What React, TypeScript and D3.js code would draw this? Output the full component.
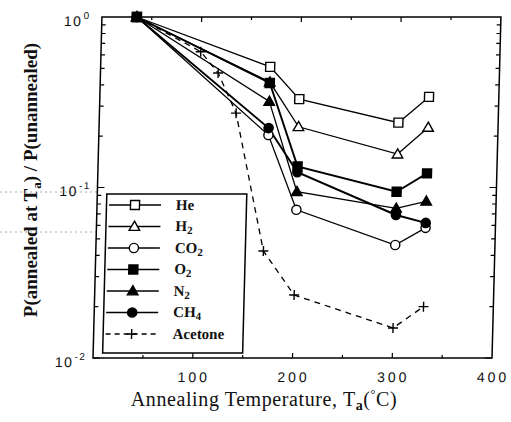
import React, { useEffect, useRef } from "react";
import * as d3 from "d3";

// annealing temperatures (°C) shared by the gas series
const temps = [35, 170, 200, 300, 330];
const heVals = [1, 0.51, 0.33, 0.24, 0.34];
const h2Vals = [1, 0.415, 0.227, 0.157, 0.225];
const co2Vals = [1, 0.203, 0.074, 0.046, 0.058];
const o2Vals = [1, 0.41, 0.133, 0.0945, 0.121];
const n2Vals = [1, 0.32, 0.0945, 0.0755, 0.083];
const ch4Vals = [1, 0.223, 0.123, 0.069, 0.062];
// acetone has its own temperature points
const acetoneTemps = [35, 100, 118, 137, 168, 200, 300, 330];
const acetoneVals = [1, 0.626, 0.469, 0.273, 0.0424, 0.0234, 0.015, 0.02];

const xTicks = [100, 200, 300, 400];
const yTickExps = [0, -1, -2];

type Series = {
  name: string;
  sub?: string;
  xs: number[];
  ys: number[];
  shape: string;
  filled: boolean;
  dashed?: boolean;
  width: number;
};

const series: Series[] = [
  { name: "He", xs: temps, ys: heVals, shape: "square", filled: false, width: 1.3 },
  { name: "H", sub: "2", xs: temps, ys: h2Vals, shape: "triangle", filled: false, width: 1.3 },
  { name: "CO", sub: "2", xs: temps, ys: co2Vals, shape: "circle", filled: false, width: 1.3 },
  { name: "O", sub: "2", xs: temps, ys: o2Vals, shape: "square", filled: true, width: 1.9 },
  { name: "N", sub: "2", xs: temps, ys: n2Vals, shape: "triangle", filled: true, width: 1.3 },
  { name: "CH", sub: "4", xs: temps, ys: ch4Vals, shape: "circle", filled: true, width: 1.9 },
  { name: "Acetone", xs: acetoneTemps, ys: acetoneVals, shape: "plus", filled: false, dashed: true, width: 1.3 },
];

const App = () => {
  const svgRef = useRef<SVGSVGElement>(null);

  useEffect(() => {
    const width = 511;
    const height = 422;
    const bottom = 358;

    const svg = d3.select(svgRef.current);
    svg.selectAll("*").remove();
    svg.attr("width", width).attr("height", height);

    svg.append("rect").attr("width", width).attr("height", height).attr("fill", "#fff");

    const x = d3.scaleLinear().domain([0, 400]).range([93, 492]);
    const y = d3.scaleLog().domain([0.01, 1]).range([bottom, 17]);

    // scanner artefacts on the left margin
    [192, 232].forEach((yy) => {
      svg
        .append("line")
        .attr("x1", 0)
        .attr("x2", 100)
        .attr("y1", yy)
        .attr("y2", yy)
        .attr("stroke", "#aaa")
        .attr("stroke-width", 1)
        .attr("stroke-dasharray", "2,3");
    });

    // the scanned page is tilted a little
    const g = svg
      .append("g")
      .attr("transform", `translate(0,${bottom}) skewX(-1.5) translate(0,${-bottom})`);

    // frame
    g.append("rect")
      .attr("x", x(0))
      .attr("y", y(1))
      .attr("width", x(400) - x(0))
      .attr("height", y(0.01) - y(1))
      .attr("fill", "none")
      .attr("stroke", "#000")
      .attr("stroke-width", 1.5);

    // x ticks, inward on bottom and top
    d3.range(50, 400, 50).forEach((t) => {
      const len = t % 100 === 0 ? 5 : 3;
      g.append("line")
        .attr("x1", x(t)).attr("x2", x(t))
        .attr("y1", y(0.01)).attr("y2", y(0.01) - len)
        .attr("stroke", "#000").attr("stroke-width", 1.2);
      g.append("line")
        .attr("x1", x(t)).attr("x2", x(t))
        .attr("y1", y(1)).attr("y2", y(1) + len)
        .attr("stroke", "#000").attr("stroke-width", 1.2);
    });

    // y ticks (log minors), inward on left and right
    const yTickVals: number[] = [];
    [0.01, 0.1].forEach((dec) => {
      for (let k = 1; k <= 9; k++) yTickVals.push(dec * k);
    });
    yTickVals.forEach((v) => {
      const major = Math.abs(Math.log10(v) - Math.round(Math.log10(v))) < 1e-6;
      const len = major ? 7 : 4;
      g.append("line")
        .attr("x1", x(0)).attr("x2", x(0) + len)
        .attr("y1", y(v)).attr("y2", y(v))
        .attr("stroke", "#000").attr("stroke-width", 1.2);
      g.append("line")
        .attr("x1", x(400)).attr("x2", x(400) - len)
        .attr("y1", y(v)).attr("y2", y(v))
        .attr("stroke", "#000").attr("stroke-width", 1.2);
    });

    // x tick labels
    xTicks.forEach((t) => {
      g.append("text")
        .attr("x", x(t) + 1.5)
        .attr("y", 382)
        .attr("text-anchor", "middle")
        .style("font-family", "'Liberation Sans', Arial, sans-serif")
        .style("font-size", "14px")
        .style("letter-spacing", "3px")
        .attr("fill", "#111")
        .text(t);
    });

    // y tick labels 10^n
    yTickExps.forEach((e) => {
      const t = g
        .append("text")
        .attr("x", 55)
        .attr("y", y(Math.pow(10, e)) + 9)
        .style("font-family", "'Liberation Sans', Arial, sans-serif")
        .style("font-size", "14px")
        .style("letter-spacing", "1.5px")
        .attr("fill", "#111");
      t.append("tspan").text("10");
      t.append("tspan")
        .attr("dy", -7)
        .attr("dx", 1)
        .style("font-size", "10px")
        .text(e === 0 ? "0" : `-${-e}`);
    });

    // marker helper
    const drawMarker = (parent: any, cx: number, cy: number, s: Series) => {
      const fill = s.filled ? "#000" : "#fff";
      if (s.shape === "square") {
        parent.append("rect")
          .attr("x", cx - 4.5).attr("y", cy - 4.5)
          .attr("width", 9).attr("height", 9)
          .attr("fill", fill).attr("stroke", "#000").attr("stroke-width", 1.4);
      } else if (s.shape === "circle") {
        parent.append("circle")
          .attr("cx", cx).attr("cy", cy).attr("r", 4.6)
          .attr("fill", fill).attr("stroke", "#000").attr("stroke-width", 1.4);
      } else if (s.shape === "triangle") {
        const sym = d3.symbol().type(d3.symbolTriangle).size(48);
        parent.append("path")
          .attr("d", sym())
          .attr("transform", `translate(${cx},${cy + 0.8})`)
          .attr("fill", fill).attr("stroke", "#000").attr("stroke-width", 1.4);
      } else {
        parent.append("path")
          .attr("d", `M${cx - 5},${cy}H${cx + 5}M${cx},${cy - 5}V${cy + 5}`)
          .attr("stroke", "#000").attr("stroke-width", 1.4);
      }
    };

    const line = d3
      .line<[number, number]>()
      .x((d) => x(d[0]))
      .y((d) => y(d[1]));

    // lines
    series.forEach((s) => {
      const pts = s.xs.map((t, i) => [t, s.ys[i]] as [number, number]);
      g.append("path")
        .attr("d", line(pts))
        .attr("fill", "none")
        .attr("stroke", "#000")
        .attr("stroke-width", s.width)
        .attr("stroke-dasharray", s.dashed ? "6,5" : null);
    });

    // markers
    series.forEach((s) => {
      s.xs.forEach((t, i) => drawMarker(g, x(t), y(s.ys[i]), s));
    });

    // legend
    const lx = 102.5;
    const ly = 194;
    const legend = g.append("g");
    legend.append("rect")
      .attr("x", lx).attr("y", ly)
      .attr("width", 140).attr("height", 159)
      .attr("fill", "#fff").attr("stroke", "#000").attr("stroke-width", 1.5);

    series.forEach((s, i) => {
      const ry = 205 + i * 21.5;
      legend.append("line")
        .attr("x1", 105).attr("x2", 157)
        .attr("y1", ry).attr("y2", ry)
        .attr("stroke", "#000").attr("stroke-width", 1.3)
        .attr("stroke-dasharray", s.dashed ? "5,4" : null);
      drawMarker(legend, 131, ry, s);
      const txt = legend.append("text")
        .attr("x", 172)
        .attr("y", ry + 5)
        .style("font-family", "'Liberation Serif', 'Times New Roman', serif")
        .style("font-size", "15px")
        .style("font-weight", "bold")
        .attr("fill", "#111");
      txt.append("tspan").text(s.name);
      if (s.sub) {
        txt.append("tspan").attr("dy", 3).style("font-size", "11px").text(s.sub);
      }
    });

    // x axis title
    const xt = svg.append("text")
      .attr("x", 264)
      .attr("y", 406)
      .attr("text-anchor", "middle")
      .style("font-family", "'Liberation Serif', 'Times New Roman', serif")
      .style("font-size", "20px")
      .style("letter-spacing", "0.6px")
      .attr("fill", "#111");
    xt.append("tspan").text("Annealing Temperature, T");
    xt.append("tspan").attr("dy", 4).style("font-size", "14px").style("font-weight", "bold").text("a");
    xt.append("tspan").attr("dy", -4).text("(");
    xt.append("tspan").attr("dy", -8).style("font-size", "12px").text("°");
    xt.append("tspan").attr("dy", 8).text("C)");

    // y axis title
    const yt = svg.append("text")
      .attr("transform", "translate(37,180) rotate(-90)")
      .attr("text-anchor", "middle")
      .style("font-family", "'Liberation Serif', 'Times New Roman', serif")
      .style("font-size", "19px")
      .style("font-weight", "bold")
      .attr("fill", "#111");
    yt.append("tspan").text("P(annealed at T");
    yt.append("tspan").attr("dy", 4).style("font-size", "13px").text("a");
    yt.append("tspan").attr("dy", -4).text(") / P(unannealed)");
  }, []);

  return (
    <div style={{ position: "absolute", left: 0, top: 0 }}>
      <svg ref={svgRef} style={{ display: "block" }} />
    </div>
  );
};

export default App;
